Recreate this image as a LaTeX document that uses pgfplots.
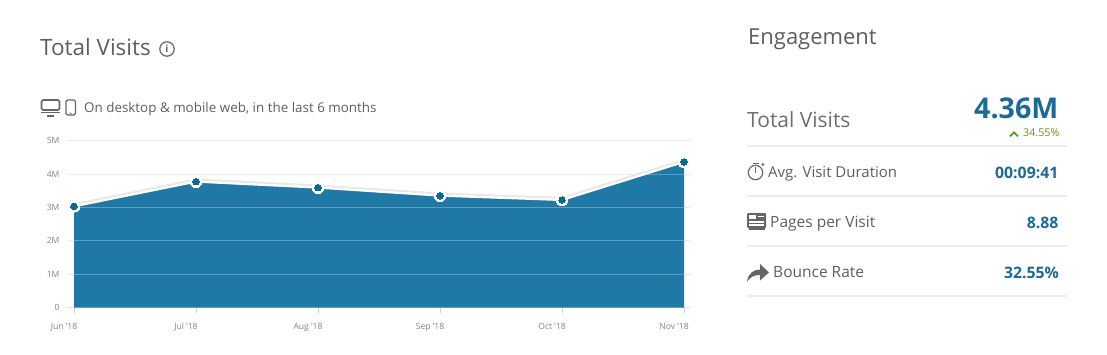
\documentclass[border=0pt]{standalone}
\usepackage{pgfplots}
\pgfplotsset{compat=1.18}
\usepackage{fontspec}
\setmainfont{Open Sans}
\definecolor{txt}{HTML}{5E5E5E}
\definecolor{lighttxt}{HTML}{6E6E6E}
\definecolor{val}{HTML}{1B6A98}
\definecolor{areac}{HTML}{1F78A5}
\definecolor{dot}{HTML}{0B6796}
\definecolor{rule}{HTML}{EBEBEB}
\definecolor{icon}{HTML}{666666}
\definecolor{tickc}{HTML}{C5D3DF}
\definecolor{grn}{HTML}{5A9A14}
\begin{document}
\begin{tikzpicture}[x=1pt,y=1pt]
\path[use as bounding box] (0,0) rectangle (1107,354);
\begin{axis}[
  anchor=south west, at={(67pt,46.4pt)},
  scale only axis, width=624pt, height=167pt,
  xmin=-0.0574, xmax=5.0574, ymin=0, ymax=5,
  xtick={0,1,2,3,4,5},
  xticklabels={Jun '18,Jul '18,Aug '18,Sep '18,Oct '18,Nov '18},
  ytick={0,1,2,3,4,5},
  yticklabels={0,1M,2M,3M,4M,5M},
  /pgf/number format/assume math mode=true,
  ticklabel style={font=\fontsize{8.6}{9}\selectfont, text=lighttxt!85},
  xticklabel style={xshift=-10pt, yshift=-7pt},
  yticklabel style={xshift=-4pt},
  ymajorgrids, grid style={draw=rule, line width=1pt},
  axis x line*=bottom, axis y line*=left,
  x axis line style={draw=tickc!60, -, line width=.8pt},
  y axis line style={draw=none},
  xtick style={draw=tickc, line width=.6pt},
  ytick style={draw=none},
  xtick align=outside, major tick length=5pt,
  clip=false,
]
% grey shadow above the line
\addplot[draw=black!9, line width=2pt, forget plot, yshift=2.2pt] coordinates {(0,3.03) (1,3.77) (2,3.59) (3,3.35) (4,3.22) (5,4.36)};
% area
\addplot[fill=areac, draw=none, forget plot] coordinates {(0,0) (0,3.03) (1,3.77) (2,3.59) (3,3.35) (4,3.22) (5,4.36) (5,0)} -- cycle;
% grid seen through the area
\addplot[draw=white, opacity=.28, line width=1pt, forget plot] coordinates {(0,1) (5,1)};
\addplot[draw=white, opacity=.28, line width=1pt, forget plot] coordinates {(0,2) (5,2)};
\addplot[draw=white, opacity=.28, line width=1pt, forget plot] coordinates {(0,3) (5,3)};
\addplot[draw=white, opacity=.28, line width=1pt, forget plot] coordinates {(4.68,4) (5,4)};
% line and markers
\addplot[draw=white, line width=2pt, mark=*, mark size=5.8pt, mark options={fill=white, draw=white, line width=0pt}] coordinates {(0,3.03) (1,3.77) (2,3.59) (3,3.35) (4,3.22) (5,4.36)};
\addplot[draw=none, mark=*, mark size=3.3pt, mark options={fill=dot, draw=dot, line width=0pt}] coordinates {(0,3.03) (1,3.77) (2,3.59) (3,3.35) (4,3.22) (5,4.36)};
\end{axis}

% left header
\node[anchor=base west, inner sep=0, text=txt, font=\fontsize{22.5}{24}\selectfont] at (40,298.7) {Total Visits};
\draw[icon, line width=1.2pt] (167,305) circle (7.2);
\node[text=icon, font=\fontsize{10}{10}\selectfont\bfseries, inner sep=0] at (167,305) {i};
% monitor
\draw[icon, line width=1.6pt, rounded corners=1.5] (41.5,244) rectangle (59.5,254);
\draw[icon, line width=1.8pt] (41,241.5) -- (60,241.5);
\draw[icon, line width=1.4pt] (46.5,238) -- (54,238);
% phone
\draw[icon, line width=1.3pt, rounded corners=1.5] (66,239) rectangle (75.5,254);
\fill[icon] (70.7,240.4) circle (.9);
\node[anchor=base west, inner sep=0, text=txt, font=\fontsize{13.4}{16}\selectfont] at (84,241.3) {On desktop \& mobile web, in the last 6 months};

% right header
\node[anchor=base west, inner sep=0, text=txt, font=\fontsize{22}{24}\selectfont] at (748,309.3) {Engagement};
\node[anchor=base west, inner sep=0, text=lighttxt, font=\fontsize{21}{24}\selectfont] at (747,226.3) {Total Visits};
\node[anchor=base east, inner sep=0, text=val, font=\fontsize{28.6}{30}\selectfont\bfseries] at (1058.5,236) {4.36M};
\draw[color=grn, line width=1.8pt] (1010,217.7) -- (1014,221.7) -- (1018,217.7);
\node[anchor=base east, inner sep=0, text=grn, font=\fontsize{10.7}{12}\selectfont] at (1059.5,218) {34.55\%};

\foreach \yy in {208,158,108,58}{\draw[rule, line width=2pt] (747,\yy) -- (1067,\yy);}

% stopwatch
\draw[icon, line width=1.2pt] (755.5,181.5) circle (7.2);
\draw[icon, line width=1.2pt] (755.5,181.5) -- (755.5,187);
\draw[icon, line width=1.5pt] (752.5,190.5) -- (758.5,190.5);
\fill[icon] (762.8,189.5) circle (1.5);
\node[anchor=base west, inner sep=0, text=txt, font=\fontsize{15}{16}\selectfont] at (768,177) {Avg. Visit Duration};
\node[anchor=base east, inner sep=0, text=val, font=\fontsize{15.8}{16}\selectfont\bfseries] at (1058.5,176) {00:09:41};

% newspaper
\fill[icon, rounded corners=1] (747,126) rectangle (766,141);
\fill[white] (749,135.3) rectangle (756,139.5);
\fill[white] (757.5,137.5) rectangle (764,138.5);
\fill[white] (749,128.5) rectangle (764,130);
\fill[white] (749,131.5) rectangle (764,133.5);
\fill[icon] (748.5,124) rectangle (764.5,126.5);
\node[anchor=base west, inner sep=0, text=txt, font=\fontsize{15.5}{16}\selectfont] at (770,127) {Pages per Visit};
\node[anchor=base east, inner sep=0, text=val, font=\fontsize{15.8}{16}\selectfont\bfseries] at (1058.5,126) {8.88};

% arrow
\fill[icon] (747,72) .. controls (748,81) and (754,84.5) .. (760,84.5) -- (760,90) -- (769,81.5) -- (760,73.5) -- (760,79) .. controls (754,79) and (750,77) .. (747,72) -- cycle;
\node[anchor=base west, inner sep=0, text=txt, font=\fontsize{15.5}{16}\selectfont] at (773,77) {Bounce Rate};
\node[anchor=base east, inner sep=0, text=val, font=\fontsize{15.8}{16}\selectfont\bfseries] at (1059,76) {32.55\%};
\end{tikzpicture}
\end{document}
